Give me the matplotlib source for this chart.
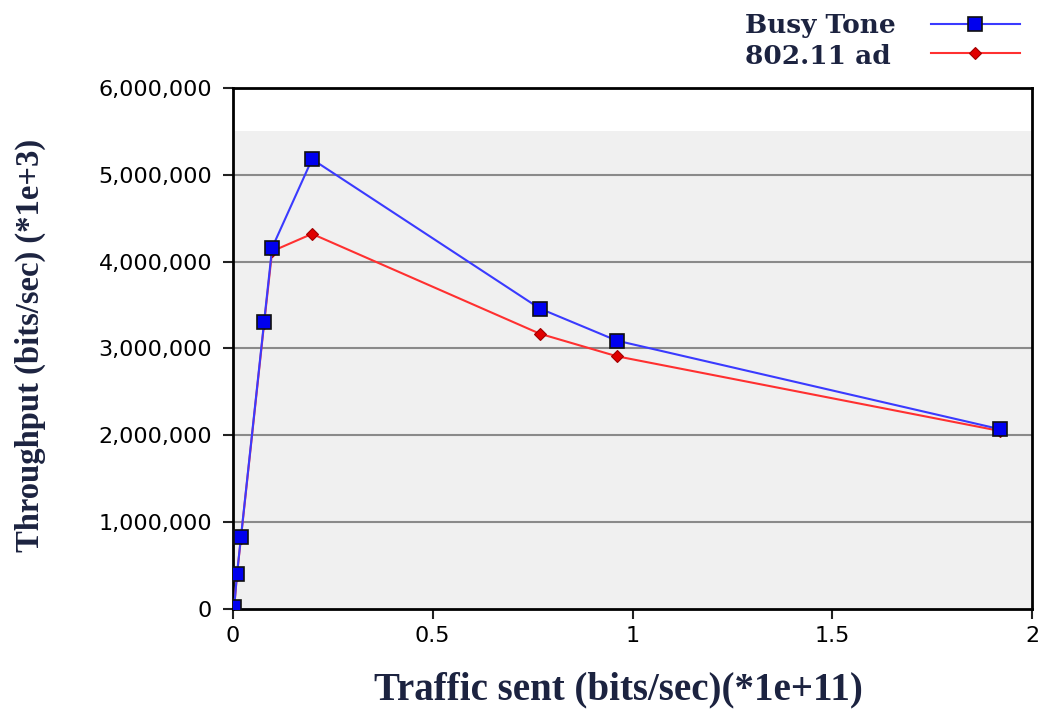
import matplotlib.pyplot as plt
import matplotlib.ticker as mticker

# traffic sent (*1e+11) and throughput
traffic_busy = [0.003, 0.01, 0.02, 0.078, 0.098, 0.198, 0.768, 0.961, 1.92]
busy_tone = [20000, 400000, 830000, 3310000, 4160000, 5180000, 3460000, 3090000, 2070000]

traffic_ad = [0.003, 0.01, 0.02, 0.078, 0.098, 0.198, 0.768, 0.961, 1.92]
ad_80211 = [15000, 390000, 820000, 3290000, 4120000, 4320000, 3170000, 2910000, 2050000]

yticks = [0, 1000000, 2000000, 3000000, 4000000, 5000000, 6000000]
xticks = [0, 0.5, 1, 1.5, 2]
xtick_labels = ['0', '0.5', '1', '1.5', '2']

fig = plt.figure(figsize=(10.41, 7.13), dpi=100)
ax = fig.add_axes([0.2238, 0.1459, 0.7676, 0.7307])

ax.axhspan(0, 5500000, color='#f0f0f0', zorder=0, lw=0)
for t in yticks[1:-1]:
    ax.axhline(t, color='#8a8a8a', lw=1.5, zorder=1)

ax.plot(traffic_ad, ad_80211, color='#ff3030', lw=1.5, marker='D', ms=6,
        mfc='#e00000', mec='#a00000', mew=0.8, zorder=3, label='802.11 ad')
ax.plot(traffic_busy, busy_tone, color='#3a3aff', lw=1.5, marker='s', ms=10,
        mfc='#0000ee', mec='#101010', mew=1.2, zorder=4, label='Busy Tone')

ax.set_xlim(0, 2)
ax.set_ylim(0, 6000000)
ax.set_yticks(yticks)
ax.set_xticks(xticks)
ax.set_xticklabels(xtick_labels)
ax.yaxis.set_major_formatter(mticker.FuncFormatter(lambda v, p: f'{int(v):,}'))
ax.tick_params(axis='both', labelsize=16, length=7, width=1.5, color='#222222')
ax.tick_params(axis='x', pad=5)
ax.tick_params(axis='y', pad=8)

for s in ax.spines.values():
    s.set_linewidth(2)
    s.set_color('black')
ax.set_facecolor('white')

lab_color = '#1c2340'
ax.set_xlabel('Traffic sent (bits/sec)(*1e+11)', va='center', family='Liberation Serif',
              fontweight='bold', fontsize=28, color=lab_color)
ax.set_ylabel('Throughput (bits/sec) (*1e+3)', va='center', family='Liberation Serif',
              fontweight='bold', fontsize=23.5, color=lab_color)
ax.xaxis.set_label_coords(0.482, -0.155)
ax.yaxis.set_label_coords(-0.253, 0.505)

# legend: labels on the left, left aligned; line samples on the right
h, l = ax.get_legend_handles_labels()
h, l = h[::-1], l[::-1]
leg = ax.legend(h, ['', ''], loc='center', bbox_to_anchor=(0.9287, 1.092),
                frameon=False, handlelength=4, borderpad=0, borderaxespad=0,
                labelspacing=0.4, handletextpad=0, fontsize=16)
leg_font = dict(family='DejaVu Serif', fontweight='bold', fontsize=19, color=lab_color)
fig.text(745 / 1041, 1 - 25 / 713, l[0], va='center', ha='left', **leg_font)
fig.text(745 / 1041, 1 - 57 / 713, l[1], va='center', ha='left', **leg_font)

fig.savefig('out.png', dpi=100)
